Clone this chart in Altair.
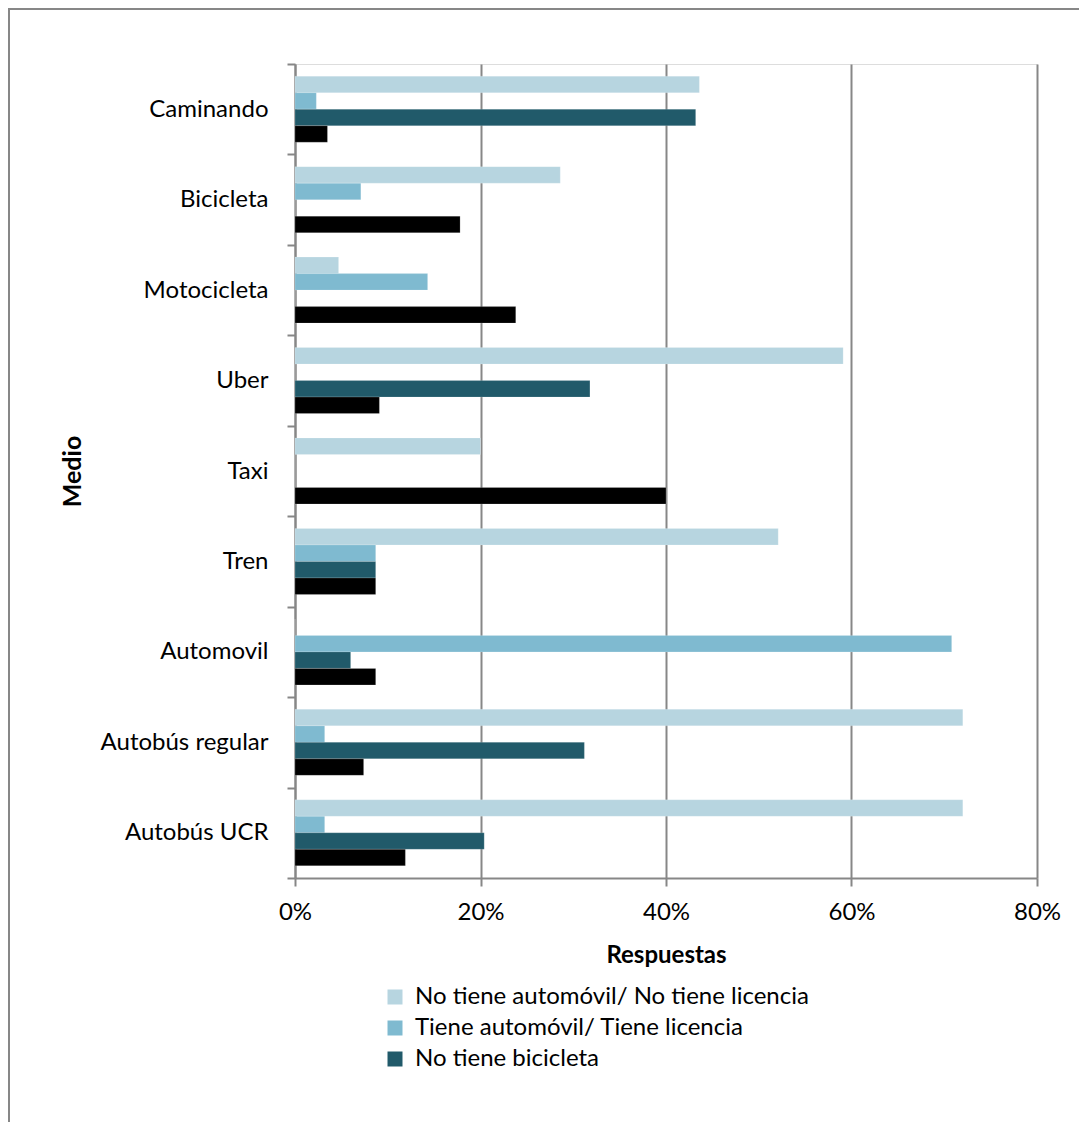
import altair as alt
import pandas as pd

categorias = ["Caminando", "Bicicleta", "Motocicleta", "Uber", "Taxi",
              "Tren", "Automovil", "Autobús regular", "Autobús UCR"]
series = ["No tiene automóvil/ No tiene licencia",
          "Tiene automóvil/ Tiene licencia",
          "No tiene bicicleta",
          "Otro"]
colores = ["#B7D5E0", "#7FBAD0", "#215A6A", "#000000"]

no_auto_no_lic = [43.6, 28.6, 4.7, 59.1, 20.0, 52.1, 0.0, 72.0, 72.0]
tiene_auto_lic = [2.3, 7.1, 14.3, 0.0, 0.0, 8.7, 70.8, 3.2, 3.2]
no_bici = [43.2, 0.0, 0.0, 31.8, 0.0, 8.7, 6.0, 31.2, 20.4]
otro = [3.5, 17.8, 23.8, 9.1, 40.0, 8.7, 8.7, 7.4, 11.9]

x_ticks = [0, 0.2, 0.4, 0.6, 0.8]

rows = []
for s, vals in zip(series, [no_auto_no_lic, tiene_auto_lic, no_bici, otro]):
    for c, v in zip(categorias, vals):
        rows.append({"Medio": c, "Serie": s, "Valor": v / 100})
df = pd.DataFrame(rows)

FONT = "Lato"
GRAY = "#878787"
W, H = 742, 814

bars = alt.Chart(df).mark_bar(stroke="white", strokeOpacity=0.35, strokeWidth=0.5).encode(
    y=alt.Y("Medio:N", sort=categorias,
            scale=alt.Scale(paddingInner=0, paddingOuter=0),
            axis=alt.Axis(title="Medio", tickBand="extent", tickSize=8, tickColor=GRAY,
                          tickWidth=2, domainColor=GRAY, domainWidth=2,
                          labelFontSize=24, labelFont=FONT, labelColor="black",
                          labelPadding=19, grid=False,
                          titleFont=FONT, titleFontSize=25, titleFontWeight="bold",
                          titleColor="black", titleX=-223, titleY=H / 2,
                          titleAngle=270, titleBaseline="middle")),
    yOffset=alt.YOffset("Serie:N", sort=series,
                        scale=alt.Scale(paddingInner=0, paddingOuter=0.74)),
    x=alt.X("Valor:Q", scale=alt.Scale(domain=[0, 0.8], nice=False),
            axis=alt.Axis(title="Respuestas", values=x_ticks, format=".0%",
                          grid=True, gridColor=GRAY, gridWidth=2,
                          tickSize=8, tickColor=GRAY, tickWidth=2,
                          domainColor=GRAY, domainWidth=2,
                          labelFontSize=24, labelFont=FONT, labelColor="black",
                          labelPadding=14, labelFlush=False,
                          titleFont=FONT, titleFontSize=24, titleFontWeight="bold",
                          titleColor="black", titleY=77, titleBaseline="middle")),
    color=alt.Color("Serie:N", sort=series,
                    scale=alt.Scale(domain=series, range=colores),
                    legend=alt.Legend(title=None, values=series[:3], orient="none",
                                      legendX=88, legendY=921,
                                      symbolType="square", symbolSize=225,
                                      symbolStrokeWidth=0, symbolOpacity=1,
                                      labelFont=FONT, labelFontSize=24,
                                      labelColor="black", rowPadding=7,
                                      labelOffset=8, labelLimit=600)),
)

border = alt.Chart(pd.DataFrame({"a": [0]})).mark_rect(
    fill=None, stroke=GRAY, strokeWidth=2
).encode(
    x=alt.value(-286), x2=alt.value(W + 80),
    y=alt.value(-55), y2=alt.value(H + 400),
)

chart = alt.layer(border, bars).properties(
    width=W, height=H,
    autosize=alt.AutoSizeParams(type="none"),
    padding={"left": 287, "top": 56, "right": 42, "bottom": 244},
).configure_view(stroke=None).configure(background="white")

chart.save("out.html", embed_options={"renderer": "svg", "actions": False})
